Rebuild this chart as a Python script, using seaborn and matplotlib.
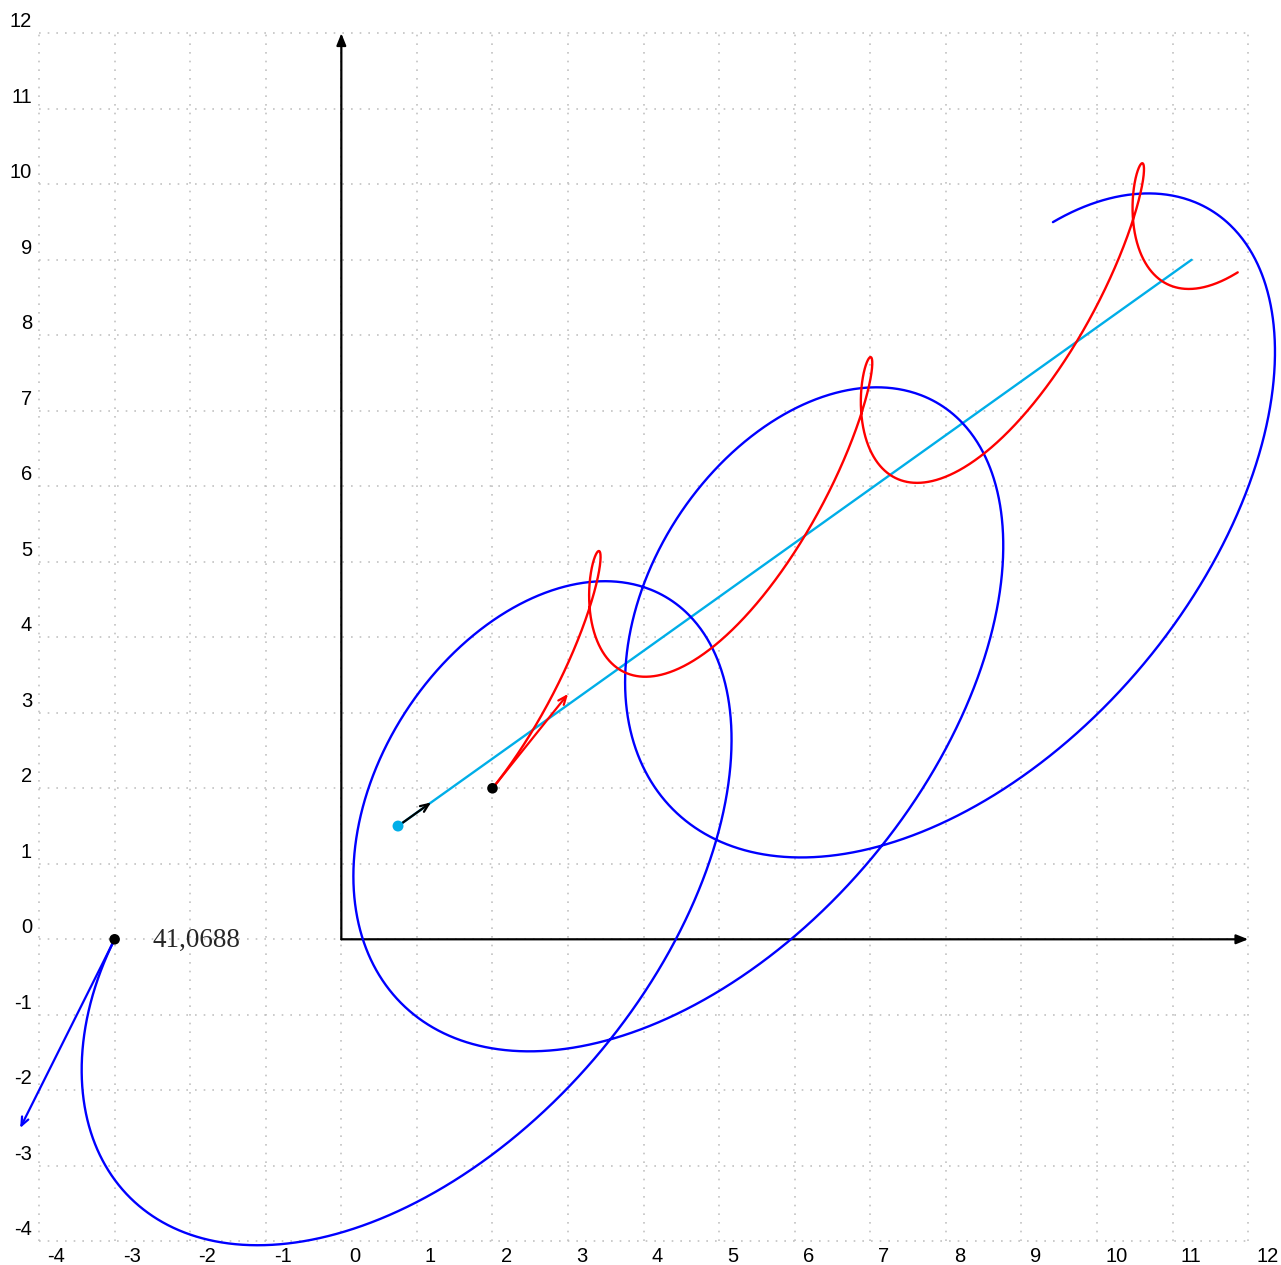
import numpy as np
import pandas as pd
import matplotlib
matplotlib.use("Agg")
import matplotlib.pyplot as plt
import seaborn as sns

# Two-body system: masses, starting positions and starting velocities
masses = [3.0, 1.0]
red_start = [2.0, 2.0]
blue_start = [-3.0, 0.0]
red_velocity = [1.0, 1.25]
blue_velocity = [-1.25, -2.5]
gravity = 25.0
duration = 24.0
label_value = "41,0688"

x_ticks = list(range(-4, 13))
y_ticks = list(range(-4, 13))

RED = "#ff0000"
BLUE = "#0000ff"
CYAN = "#00aee8"
GRID = "#c2c2c2"


def simulate(steps=24000):
    """Integrate the relative orbit (RK4) and return centre of mass and both bodies."""
    m1, m2 = masses
    total = m1 + m2
    mu = gravity * total
    p1, p2 = np.array(red_start), np.array(blue_start)
    v1, v2 = np.array(red_velocity), np.array(blue_velocity)
    com0 = (m1 * p1 + m2 * p2) / total
    vcom = (m1 * v1 + m2 * v2) / total

    def accel(r):
        return -mu * r / (r[0] ** 2 + r[1] ** 2) ** 1.5

    dt = duration / steps
    r = p1 - p2
    u = v1 - v2
    rel = np.empty((steps + 1, 2))
    rel[0] = r
    for i in range(steps):
        k1r, k1u = u, accel(r)
        k2r, k2u = u + 0.5 * dt * k1u, accel(r + 0.5 * dt * k1r)
        k3r, k3u = u + 0.5 * dt * k2u, accel(r + 0.5 * dt * k2r)
        k4r, k4u = u + dt * k3u, accel(r + dt * k3r)
        r = r + dt / 6 * (k1r + 2 * k2r + 2 * k3r + k4r)
        u = u + dt / 6 * (k1u + 2 * k2u + 2 * k3u + k4u)
        rel[i + 1] = r
    t = np.linspace(0, duration, steps + 1)
    com = com0 + np.outer(t, vcom)
    red = com + m2 / total * rel
    blue = com - m1 / total * rel
    return com0, vcom, com, red, blue


com0, vcom, com, red, blue = simulate()

sns.set_style("white")
plt.rcParams["font.family"] = ["Liberation Sans", "DejaVu Sans"]

fig = plt.figure(figsize=(12.81, 12.65), dpi=100)
ax = fig.add_axes([0, 0, 1, 1])
ax.set_xlim(-4.5166, 12.4338)
ax.set_ylim(-4.314, 12.441)
ax.axis("off")

# dotted unit grid
ax.vlines(x_ticks, -4, 12, colors=GRID, linestyles=(0, (1, 4.2)), linewidth=1.2, zorder=0)
ax.hlines(y_ticks, -4, 12, colors=GRID, linestyles=(0, (1, 4.2)), linewidth=1.2, zorder=0)

# tick labels
for v in x_ticks:
    ax.annotate(str(v), xy=(v, -4), xytext=(5.8, -15.2), textcoords="offset points",
                ha="left", va="baseline", fontsize=14.5, color="black")
for v in y_ticks:
    ax.annotate(str(v), xy=(-4, v), xytext=(-5.0, 4.4), textcoords="offset points",
                ha="right", va="baseline", fontsize=14.5, color="black")

# coordinate axes with arrow heads
axis_arrow = dict(arrowstyle="-|>,head_length=0.7,head_width=0.28", color="black",
                  lw=1.6, shrinkA=0, shrinkB=0)
ax.annotate("", xy=(12, 0), xytext=(0, 0), arrowprops=axis_arrow, zorder=2)
ax.annotate("", xy=(0, 12), xytext=(0, 0), arrowprops=axis_arrow, zorder=2)

# centre of mass path and the two orbits
step = 3
path = pd.DataFrame({
    "cx": com[::step, 0], "cy": com[::step, 1],
    "rx": red[::step, 0], "ry": red[::step, 1],
    "bx": blue[::step, 0], "by": blue[::step, 1],
})
sns.lineplot(data=path, x="cx", y="cy", sort=False, estimator=None, color=CYAN,
             linewidth=1.7, ax=ax, zorder=3)
sns.lineplot(data=path, x="bx", y="by", sort=False, estimator=None, color=BLUE,
             linewidth=1.7, ax=ax, zorder=4)
sns.lineplot(data=path, x="rx", y="ry", sort=False, estimator=None, color=RED,
             linewidth=1.7, ax=ax, zorder=5)

# initial velocity vectors
def vec(start, velocity, color):
    end = (start[0] + velocity[0], start[1] + velocity[1])
    ax.annotate("", xy=end, xytext=tuple(start),
                arrowprops=dict(arrowstyle="->,head_length=0.6,head_width=0.25",
                                color=color, lw=1.6, shrinkA=0, shrinkB=0), zorder=6)

vec(red_start, red_velocity, RED)
vec(blue_start, blue_velocity, BLUE)
vec(list(com0), list(vcom), "black")

# starting points
pts = pd.DataFrame({"x": [red_start[0], blue_start[0]], "y": [red_start[1], blue_start[1]]})
sns.scatterplot(data=pts, x="x", y="y", color="black", s=58, edgecolor="none", ax=ax, zorder=7)
sns.scatterplot(x=[com0[0]], y=[com0[1]], color=CYAN, s=62, edgecolor="none", ax=ax, zorder=7)

ax.annotate(label_value, xy=tuple(blue_start), xytext=(27.5, -5.3), textcoords="offset points",
            ha="left", va="baseline", fontsize=19.5, family=["Liberation Serif", "DejaVu Serif"])

ax.set_xlim(-4.5166, 12.4338)
ax.set_ylim(-4.314, 12.441)
fig.savefig("out.png", dpi=100)
